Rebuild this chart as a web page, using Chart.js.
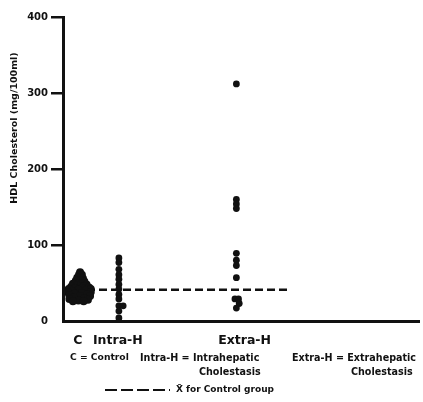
<!DOCTYPE html>
<html>
<head>
<meta charset="utf-8">
<script src="https://cdn.jsdelivr.net/npm/chart.js@4"></script>
<style>
  html, body { margin: 0; padding: 0; background: #fff; }
  #wrap { width: 423px; height: 402px; }
</style>
</head>
<body>
<div id="wrap"><canvas id="myChart"></canvas></div>
<script>
"use strict";

// Group labels and where they sit on the x axis
const groupLabels = ["C", "Intra-H", "Extra-H"];
const groupLabelPos = [0.42, 1.54, 5.1];
const groupPos = [0.48, 1.57, 4.87];

// HDL cholesterol (mg/100ml)
const controlValues = [64, 61, 61, 58, 57, 56, 54, 53, 52, 50, 50, 49, 48, 47, 46, 46, 45, 44, 43, 43,
  42, 42, 41, 40, 39, 38, 38, 37, 36, 35, 34, 33, 33, 31, 30, 29, 28, 27, 26, 26];
const controlJitter = [0, -0.03, 0.05, 0, -0.08, 0.08, 0.02, -0.12, 0.12, -0.05, 0.06, -0.2, 0.18, -0.1, 0.02, 0.12, -0.25, 0.25, -0.15, 0.05,
  -0.32, 0.3, -0.05, 0.15, -0.22, 0.3, -0.35, 0.05, -0.15, 0.2, -0.3, 0.28, 0, -0.18, 0.12, -0.3, 0.22, -0.05, -0.2, 0.1];

const intraValues = [83, 77, 68, 61, 55, 48, 42, 35, 29, 20, 20, 13, 4];
const intraJitter = [0, 0, 0, 0, 0, 0, 0, 0, 0, 0, 0.12, 0, 0];

const extraValues = [312, 160, 154, 148, 89, 80, 73, 57, 29, 29, 23, 17];
const extraJitter = [0, 0, 0, 0, 0, 0, 0, 0, -0.04, 0.06, 0.08, 0];

// Mean of the control group
const controlMean = 41;
const meanLineEnd = 6.36;

const yTicks = [0, 100, 200, 300, 400];

const toPoints = (pos, vals, jit) => vals.map((v, i) => ({ x: pos + jit[i], y: v }));

// Text drawn under the plot and beside the y axis
const notesPlugin = {
  id: "notes",
  afterDraw(chart) {
    const c = chart.ctx;
    c.save();
    c.fillStyle = "#111";
    c.textBaseline = "middle";
    c.textAlign = "left";
    c.font = "bold 9.2px 'DejaVu Sans'";
    c.fillText("C = Control", 70, 358);
    c.font = "bold 9.6px 'DejaVu Sans'";
    c.fillText("Intra-H = Intrahepatic", 140, 358);
    c.fillText("Cholestasis", 199, 372);
    c.fillText("Extra-H = Extrahepatic", 292, 358);
    c.fillText("Cholestasis", 351, 372);
    c.font = "bold 9px 'DejaVu Sans'";
    c.fillText("X\u0304 for Control group", 176, 390);

    c.strokeStyle = "#111";
    c.lineWidth = 2;
    c.setLineDash([12, 4]);
    c.beginPath();
    c.moveTo(105, 390);
    c.lineTo(170, 390);
    c.stroke();
    c.setLineDash([]);

    c.translate(15, 128);
    c.rotate(-Math.PI / 2);
    c.textAlign = "center";
    c.font = "bold 9.5px 'DejaVu Sans'";
    c.fillText("HDL Cholesterol (mg/100ml)", 0, 0);
    c.restore();
  },
};

const ctx = document.getElementById("myChart").getContext("2d");

const myChart = new Chart(ctx, {
  type: "scatter",
  data: {
    datasets: [
      {
        data: toPoints(groupPos[0], controlValues, controlJitter),
        backgroundColor: "#111",
        borderWidth: 0,
        pointRadius: 4,
      },
      {
        data: toPoints(groupPos[1], intraValues, intraJitter),
        backgroundColor: "#111",
        borderWidth: 0,
        pointRadius: 3.4,
      },
      {
        data: toPoints(groupPos[2], extraValues, extraJitter),
        backgroundColor: "#111",
        borderWidth: 0,
        pointRadius: 3.4,
      },
      {
        type: "line",
        data: [{ x: 0, y: controlMean }, { x: meanLineEnd, y: controlMean }],
        borderColor: "#111",
        borderWidth: 2.5,
        borderDash: [8, 4],
        pointRadius: 0,
        fill: false,
      },
    ],
  },
  options: {
    responsive: true,
    maintainAspectRatio: false,
    animation: false,
    layout: {
      padding: { top: 17, right: 3, left: 0, bottom: 0 },
    },
    scales: {
      x: {
        type: "linear",
        min: 0,
        max: 10,
        afterFit: (s) => { s.height = 81; },
        afterBuildTicks: (s) => { s.ticks = groupLabelPos.map((v) => ({ value: v })); },
        grid: { display: false, drawTicks: false },
        border: { display: true, color: "#111", width: 3 },
        ticks: {
          padding: 12,
          color: "#111",
          maxRotation: 0,
          font: { family: "DejaVu Sans", size: 12.5, weight: "bold" },
          callback: (v, i) => groupLabels[i],
        },
      },
      y: {
        min: 0,
        max: 400,
        afterFit: (s) => { s.width = 63; },
        afterBuildTicks: (s) => { s.ticks = yTicks.map((v) => ({ value: v })); },
        grid: {
          drawOnChartArea: false,
          drawTicks: true,
          tickLength: 12,
          color: (c) => (c.tick && c.tick.value === 0 ? "rgba(0,0,0,0)" : "#111"),
          lineWidth: 2.5,
        },
        border: { display: true, color: "#111", width: 3 },
        ticks: {
          padding: 3,
          color: "#111",
          font: { family: "DejaVu Sans", size: 10, weight: "bold" },
        },
      },
    },
    plugins: {
      legend: { display: false },
      tooltip: { enabled: false },
    },
  },
  plugins: [notesPlugin],
});
</script>
</body>
</html>
